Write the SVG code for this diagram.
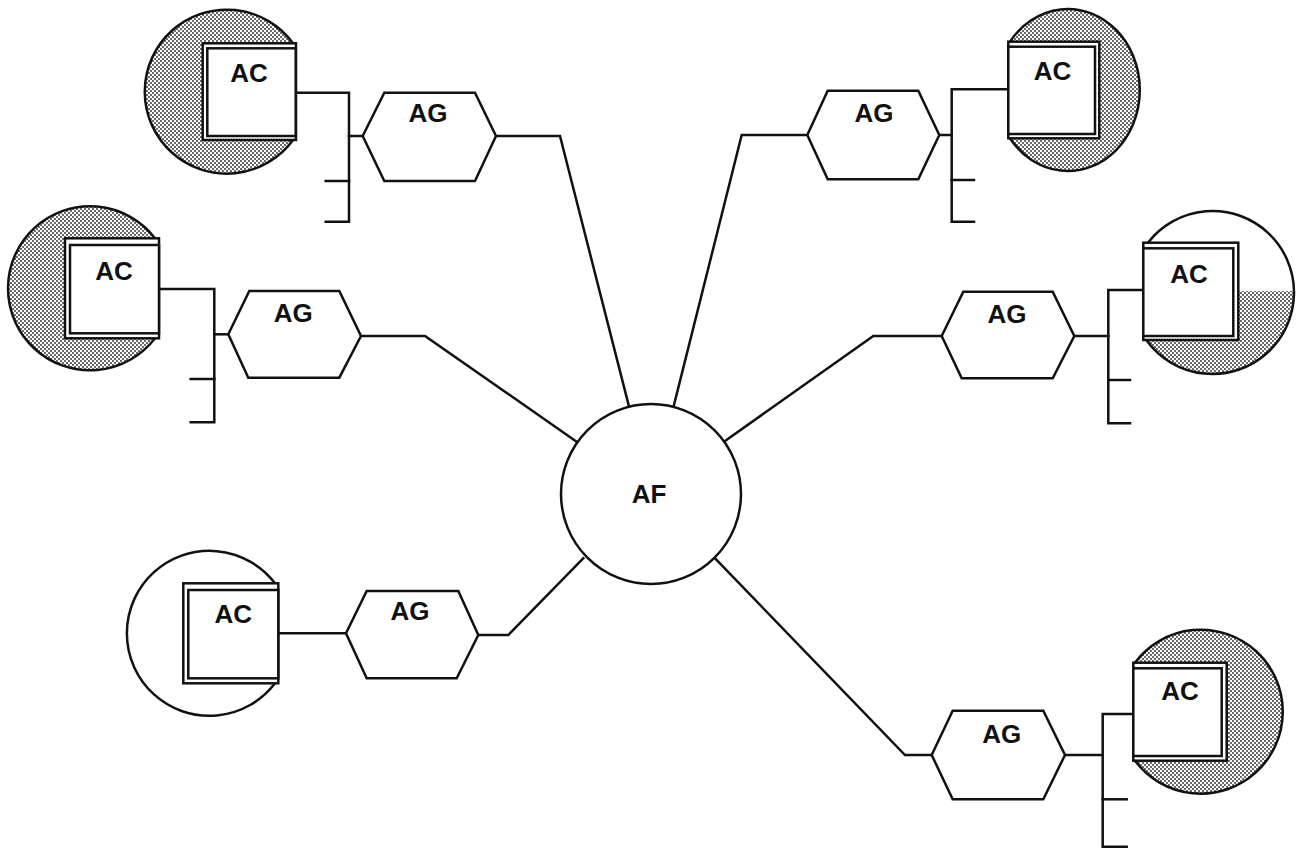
<svg xmlns="http://www.w3.org/2000/svg" width="1300" height="849" viewBox="0 0 1300 849">
<style>
  .ln{fill:none;stroke:#111;stroke-width:2.5;stroke-linejoin:miter;stroke-linecap:square}
  .sh{stroke:#111;stroke-width:2.5}
  .bx{fill:#fff;stroke:#111;stroke-width:2.5}
  .t{font-family:"Liberation Sans",Arial,sans-serif;font-weight:bold;font-size:26px;fill:#111;text-anchor:middle}
</style>
<defs>
  <pattern id="dots" width="4" height="4" patternUnits="userSpaceOnUse">
    <rect width="4" height="4" fill="#fff"/>
    <circle cx="1" cy="1" r="0.9" fill="#222"/>
    <circle cx="3" cy="3" r="0.9" fill="#222"/>
  </pattern>
  <clipPath id="mrclip"><path d="M1148,242.7 A81.5,81.5 0 1,1 1147,341 Z"/></clipPath>
</defs>
<rect width="1300" height="849" fill="#fff"/>

<g id="connectors" class="ln">
  <polyline points="296,92.7 349,92.7 349,221.7 325.7,221.7"/>
  <line x1="325.7" y1="181" x2="349" y2="181"/>
  <line x1="349" y1="136" x2="362.7" y2="136"/>
  <polyline points="496,136 560,136 629.3,407.7"/>
  <polyline points="807.3,135 741.7,135 673.3,407.7"/>
  <polyline points="1008.3,89.3 951.7,89.3 951.7,221.7 974,221.7"/>
  <line x1="951.7" y1="180" x2="974" y2="180"/>
  <line x1="939.3" y1="135" x2="951.7" y2="135"/>
  <polyline points="159,289 214.3,289 214.3,422.3 190.7,422.3"/>
  <line x1="190.7" y1="379" x2="214.3" y2="379"/>
  <line x1="214.3" y1="334.3" x2="228.3" y2="334.3"/>
  <polyline points="361,336 425,336 576.7,441.7"/>
  <polyline points="941.7,336 873.3,336 725,441"/>
  <polyline points="1143.3,290 1108.3,290 1108.3,423.3 1130,423.3"/>
  <line x1="1108.3" y1="380" x2="1130" y2="380"/>
  <line x1="1074.3" y1="336" x2="1108.3" y2="336"/>
  <line x1="278.3" y1="633.3" x2="346" y2="633.3"/>
  <polyline points="478.3,635 508.3,635 583.3,558.3"/>
  <polyline points="931.7,755 905,755 715,558.3"/>
  <polyline points="1133.3,714 1102.7,714 1102.7,846.7 1126.7,846.7"/>
  <line x1="1102.7" y1="799.3" x2="1126.7" y2="799.3"/>
  <line x1="1065" y1="755" x2="1102.7" y2="755"/>
</g>

<g id="AF">
  <circle cx="651" cy="494" r="90" class="bx"/>
  <text x="649" y="503" class="t">AF</text>
</g>

<g id="AC-top-left">
  <path d="M293,43.3 A82,82 0 1,0 293,140 Z" fill="url(#dots)" class="sh"/>
  <rect x="202.7" y="43.3" width="93.3" height="96.7" class="bx"/>
  <rect x="207.3" y="48.3" width="88.4" height="87.7" class="bx"/>
  <text x="249" y="81.7" class="t">AC</text>
</g>
<g id="AC-top-right">
  <path d="M1010,41.7 A72,81 0 1,1 1010,138.3 Z" fill="url(#dots)" class="sh"/>
  <rect x="1008.3" y="41.7" width="91" height="96.6" class="bx"/>
  <rect x="1008.3" y="46.7" width="86.7" height="87.3" class="bx"/>
  <text x="1052.5" y="80" class="t">AC</text>
</g>
<g id="AC-middle-left">
  <path d="M155,238.3 A82,82 0 1,0 155,338.3 Z" fill="url(#dots)" class="sh"/>
  <rect x="65" y="238.3" width="94" height="100" class="bx"/>
  <rect x="70" y="245" width="89" height="88.3" class="bx"/>
  <text x="114" y="280" class="t">AC</text>
</g>
<g id="AC-middle-right">
  <path d="M1148,242.7 A81.5,81.5 0 1,1 1147,341 Z" fill="#fff"/>
  <rect x="1130" y="291" width="170" height="90" fill="url(#dots)" clip-path="url(#mrclip)"/>
  <path d="M1148,242.7 A81.5,81.5 0 1,1 1147,341 Z" fill="none" class="sh"/>
  <rect x="1143.3" y="242.7" width="95" height="97.3" class="bx"/>
  <rect x="1143.3" y="248.3" width="90" height="87.7" class="bx"/>
  <text x="1189" y="283.3" class="t">AC</text>
</g>
<g id="AC-bottom-left">
  <path d="M275,583.3 A82.5,82.5 0 1,0 275,683.3 Z" fill="#fff" class="sh"/>
  <rect x="183.3" y="583.3" width="95" height="100" class="bx"/>
  <rect x="188.3" y="590" width="90" height="88.3" class="bx"/>
  <text x="233.3" y="623.3" class="t">AC</text>
</g>
<g id="AC-bottom-right">
  <path d="M1135,662.7 A82,82 0 1,1 1135,760.7 Z" fill="url(#dots)" class="sh"/>
  <rect x="1133.3" y="662.7" width="93.4" height="98" class="bx"/>
  <rect x="1133.3" y="668.3" width="88.4" height="87.7" class="bx"/>
  <text x="1180" y="700" class="t">AC</text>
</g>

<g id="AG-top-left">
  <polygon points="362.7,136 384.3,92.7 475,92.7 496,136 475,181 384.3,181" class="bx"/>
  <text x="428" y="121.7" class="t">AG</text>
</g>
<g id="AG-top-right">
  <polygon points="807.3,135 827.7,90.7 918.3,90.7 939.3,135 918.3,179.3 827.7,179.3" class="bx"/>
  <text x="874" y="121.7" class="t">AG</text>
</g>
<g id="AG-middle-left">
  <polygon points="228.3,334.3 249.3,291 339.3,291 361,336 339.3,377.7 248.3,377.7" class="bx"/>
  <text x="293.3" y="321.7" class="t">AG</text>
</g>
<g id="AG-middle-right">
  <polygon points="941.7,336 963.3,291.7 1052.7,291.7 1074.3,336 1052.7,378.3 961.7,378.3" class="bx"/>
  <text x="1007" y="323.3" class="t">AG</text>
</g>
<g id="AG-bottom-left">
  <polygon points="346,633.3 366.7,591 458.3,591 478.3,635 456.7,678.3 366.7,678.3" class="bx"/>
  <text x="410" y="620" class="t">AG</text>
</g>
<g id="AG-bottom-right">
  <polygon points="931.7,755 952.7,710.7 1043.3,710.7 1065,755 1043.3,799.3 952.7,799.3" class="bx"/>
  <text x="1001.7" y="743.3" class="t">AG</text>
</g>
</svg>
